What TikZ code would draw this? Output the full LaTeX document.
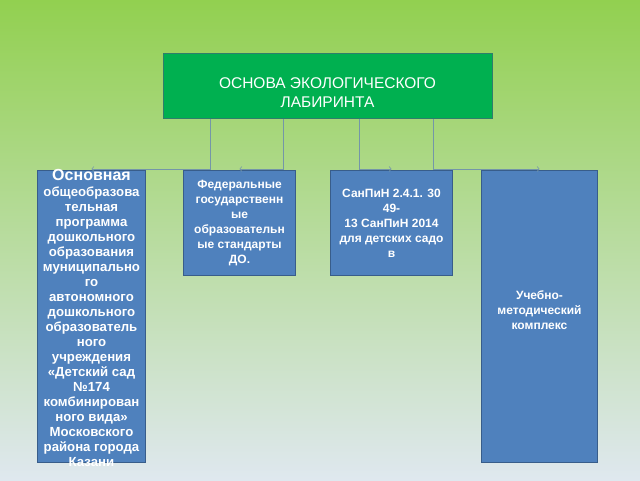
\documentclass[tikz,border=0pt]{standalone}
\usepackage{fontspec}
\setmainfont{Liberation Sans}
\usetikzlibrary{arrows.meta, positioning}

\definecolor{bgtop}{HTML}{92D050}
\definecolor{bgmid}{HTML}{BCE1A0}
\definecolor{bgbot}{HTML}{DFE8EF}
\definecolor{topgreen}{HTML}{00B050}
\definecolor{topedge}{HTML}{2F7E6B}
\definecolor{boxblue}{HTML}{4F81BD}
\definecolor{boxedge}{HTML}{385D8A}
\definecolor{linkgray}{HTML}{7496A8}

\tikzset{
  topbox/.style={draw=topedge, fill=topgreen, line width=1pt,
    minimum width=329pt, minimum height=65pt},
  toptext/.style={text=white, align=center, inner sep=0pt,
    font=\fontsize{15.5}{19}\selectfont},
  bluebox/.style={draw=boxedge, fill=boxblue, line width=1pt, anchor=north west,
    inner sep=0pt, align=center, text=white,
    font=\bfseries\fontsize{12}{15}\selectfont},
  boxtext/.style={inner sep=0pt, align=center, text=white,
    font=\bfseries\fontsize{12}{15}\selectfont},
  link/.style={draw=linkgray, line width=0.6pt,
    -{Straight Barb[length=2pt,width=5pt]}},
}

\begin{document}
\begin{tikzpicture}[x=1pt, y=-1pt]
% Background
\shade[top color=bgtop, middle color=bgmid, bottom color=bgbot]
  (0,0) rectangle (640,480);
\useasboundingbox (0,0) rectangle (640,480);
% Top box
\node[topbox] (top) at (327.5,85.5) {};
\node[toptext] (toptitle) at ([yshift=-7pt]top.center)
  {ОСНОВА ЭКОЛОГИЧЕСКОГО\\ЛАБИРИНТА};
% Lower boxes
\node[bluebox, minimum width=108pt, minimum height=292pt] (prog) at (37,170) {};
\node[bluebox, minimum width=112pt, minimum height=105pt] (fgos) at (183,170)
  {Федеральные\\государственн\\ые\\образовательн\\ые стандарты\\ДО.};
\node[bluebox, minimum width=122pt, minimum height=105pt] (sanpin) at (330,170)
  {СанПиН 2.4.1. 30\\49-\\13 СанПиН 2014\\для детских садо\\в};
\node[bluebox, minimum width=116pt, minimum height=292pt] (umk) at (481,170) {};
\node[boxtext] (umktext) at ([yshift=6pt]umk.center)
  {Учебно-\\методический\\комплекс};
\node[boxtext, anchor=north, font=\bfseries\fontsize{13.2}{15}\selectfont]
  (progtext) at ([yshift=1pt]prog.north)
  {{\fontsize{16}{18}\selectfont Основная}\\[1pt]
   общеобразова\\тельная\\программа\\дошкольного\\образования\\
   муниципально\\го\\автономного\\дошкольного\\образователь\\ного\\
   учреждения\\«Детский сад\\№174\\комбинирован\\ного вида»\\
   Московского\\района города\\Казани};
% Connectors
\draw[link] ([xshift=-117.5pt]top.south) |- ([yshift=1pt]prog.north);
\draw[link] ([xshift=-44.5pt]top.south) |- ([yshift=1pt]fgos.north);
\draw[link] ([xshift=31.5pt]top.south) |- ([yshift=1pt]sanpin.north);
\draw[link] ([xshift=105.5pt]top.south) |- ([yshift=1pt]umk.north);
\end{tikzpicture}
\end{document}
